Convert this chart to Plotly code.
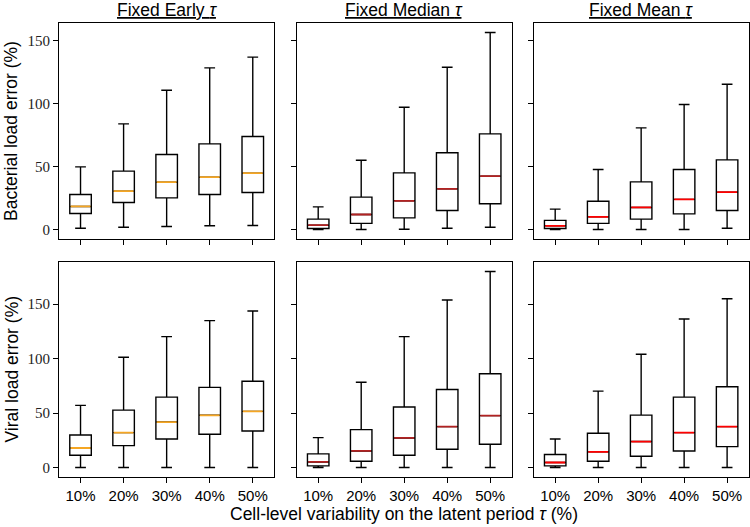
import plotly.graph_objects as go

categories = ["10%", "20%", "30%", "40%", "50%"]
panel_titles = ["Fixed Early", "Fixed Median", "Fixed Mean"]
row_labels = ["Bacterial load error (%)", "Viral load error (%)"]
median_colors = ["#f5a623", "#b22222", "#ff0000"]

# Bacterial load error (top row)
bact_early_q1 = [12.7, 21.5, 25.1, 27.8, 29.4]
bact_early_med = [18.3, 30.5, 37.6, 41.6, 44.8]
bact_early_q3 = [27.8, 46.4, 59.7, 68.1, 74.0]
bact_early_lo = [1.0, 1.8, 2.4, 2.9, 3.2]
bact_early_hi = [49.8, 84.0, 110.8, 128.6, 137.1]

bact_median_q1 = [0.8, 4.8, 9.2, 15.1, 20.4]
bact_median_med = [3.4, 11.9, 22.8, 32.3, 42.4]
bact_median_q3 = [8.2, 25.7, 45.0, 61.0, 76.1]
bact_median_lo = [0.0, 0.0, 0.2, 1.0, 1.8]
bact_median_hi = [18.0, 55.1, 97.3, 129.1, 156.7]

bact_mean_q1 = [0.8, 4.8, 8.2, 12.4, 15.1]
bact_mean_med = [2.9, 10.0, 17.5, 23.9, 29.7]
bact_mean_q3 = [7.2, 22.5, 37.9, 47.7, 55.4]
bact_mean_lo = [0.0, 0.0, 0.0, 0.0, 1.0]
bact_mean_hi = [16.2, 47.7, 80.8, 99.4, 115.6]

# Viral load error (bottom row)
vir_early_q1 = [11.3, 20.1, 26.2, 30.5, 33.5]
vir_early_med = [17.9, 32.0, 41.7, 47.9, 51.5]
vir_early_q3 = [29.8, 52.7, 64.6, 73.5, 79.2]
vir_early_lo = [0.0, 0.0, 0.0, 0.0, 0.0]
vir_early_hi = [57.0, 101.2, 120.1, 134.8, 143.6]

vir_median_q1 = [1.5, 5.8, 11.3, 16.7, 21.3]
vir_median_med = [5.1, 15.2, 27.1, 37.5, 47.6]
vir_median_q3 = [12.5, 34.8, 55.5, 71.6, 86.0]
vir_median_lo = [0.0, 0.0, 0.0, 0.0, 0.0]
vir_median_hi = [27.4, 78.3, 120.1, 153.7, 179.9]

vir_mean_q1 = [1.5, 5.8, 10.3, 15.2, 19.2]
vir_mean_med = [4.6, 14.3, 23.8, 32.0, 37.5]
vir_mean_q3 = [11.9, 31.4, 48.1, 64.6, 74.1]
vir_mean_lo = [0.0, 0.0, 0.0, 0.0, 0.0]
vir_mean_hi = [26.2, 70.1, 104.0, 136.3, 154.9]

panels = [
    (bact_early_q1, bact_early_med, bact_early_q3, bact_early_lo, bact_early_hi),
    (bact_median_q1, bact_median_med, bact_median_q3, bact_median_lo, bact_median_hi),
    (bact_mean_q1, bact_mean_med, bact_mean_q3, bact_mean_lo, bact_mean_hi),
    (vir_early_q1, vir_early_med, vir_early_q3, vir_early_lo, vir_early_hi),
    (vir_median_q1, vir_median_med, vir_median_q3, vir_median_lo, vir_median_hi),
    (vir_mean_q1, vir_mean_med, vir_mean_q3, vir_mean_lo, vir_mean_hi),
]

W, H = 750, 527
xdoms = [(59, 274.3), (296.7, 511.7), (533.7, 748.6)]
ydoms = [(22.7, 239.3), (261.7, 477.3)]  # pixel top, bottom
positions = list(range(1, len(categories) + 1))
BOX_W = 0.5

SANS = "Liberation Sans"
SERIF = "Liberation Serif"
LABEL_SIZE = 17.5

fig = go.Figure()
layout = dict(
    width=W, height=H,
    margin=dict(l=0, r=0, t=0, b=0),
    paper_bgcolor="white", plot_bgcolor="white",
    showlegend=False,
    annotations=[],
)

box_traces = []
med_traces = []
for idx, (q1, med, q3, lo, hi) in enumerate(panels):
    r, c = divmod(idx, 3)
    n = idx + 1
    xa = "x" if n == 1 else f"x{n}"
    ya = "y" if n == 1 else f"y{n}"
    box_traces.append(go.Box(
        x=positions, q1=q1, median=med, q3=q3, lowerfence=lo, upperfence=hi,
        width=BOX_W, whiskerwidth=0.5, boxpoints=False,
        line=dict(color="black", width=1.4), fillcolor="rgba(0,0,0,0)",
        xaxis=xa, yaxis=ya, hoverinfo="skip",
    ))
    mx, my = [], []
    for p, m in zip(positions, med):
        mx += [p - BOX_W / 2 + 0.02, p + BOX_W / 2 - 0.02, None]
        my += [m, m, None]
    med_traces.append(go.Scatter(
        x=mx, y=my, mode="lines", line=dict(color=median_colors[c], width=1.8),
        xaxis=xa, yaxis=ya, hoverinfo="skip",
    ))

    row_panels = panels[r * 3:(r + 1) * 3]
    ymax = max(max(p[4]) for p in row_panels)
    ymin = min(min(p[3]) for p in row_panels)
    span = ymax - ymin
    yr = [ymin - 0.05 * span, ymax + 0.05 * span]

    x0, x1 = xdoms[c]
    top, bot = ydoms[r]
    key_x = "xaxis" if n == 1 else f"xaxis{n}"
    key_y = "yaxis" if n == 1 else f"yaxis{n}"
    layout[key_x] = dict(
        domain=[x0 / W, x1 / W], anchor=ya, range=[0.5, len(categories) + 0.5],
        tickmode="array", tickvals=positions, ticktext=categories,
        showticklabels=(r == 1), ticks="outside", ticklen=5, tickwidth=1,
        tickcolor="black", showline=True, mirror=True, linecolor="black",
        linewidth=1, showgrid=False, zeroline=False,
        tickfont=dict(family=SANS, size=15, color="black"),
    )
    layout[key_y] = dict(
        domain=[1 - bot / H, 1 - top / H], anchor=xa, range=yr,
        tickmode="array", tickvals=[0, 50, 100, 150],
        showticklabels=(c == 0), ticks="outside", ticklen=5, tickwidth=1,
        tickcolor="black", showline=True, mirror=True, linecolor="black",
        linewidth=1, showgrid=False, zeroline=False,
        tickfont=dict(family=SERIF, size=15, color="#222"),
    )

for t in box_traces:
    fig.add_trace(t)
for t in med_traces:
    fig.add_trace(t)

for c, title in enumerate(panel_titles):
    x0, x1 = xdoms[c]
    layout["annotations"].append(dict(
        text=f"<u>{title} <i>τ</i></u>", x=(x0 + x1) / 2 / W, y=1 - 10 / H,
        xref="paper", yref="paper", showarrow=False, xanchor="center", yanchor="middle",
        font=dict(family=SANS, size=LABEL_SIZE, color="black"),
    ))

for r, lab in enumerate(row_labels):
    top, bot = ydoms[r]
    layout["annotations"].append(dict(
        text=lab, x=11 / W, y=1 - (top + bot) / 2 / H, textangle=-90,
        xref="paper", yref="paper", showarrow=False, xanchor="center", yanchor="middle",
        font=dict(family=SANS, size=LABEL_SIZE, color="black"),
    ))

layout["annotations"].append(dict(
    text="Cell-level variability on the latent period <i>τ</i> (%)",
    x=(xdoms[0][0] + xdoms[2][1]) / 2 / W, y=1 - 514 / H,
    xref="paper", yref="paper", showarrow=False, xanchor="center", yanchor="middle",
    font=dict(family=SANS, size=LABEL_SIZE, color="black"),
))

fig.update_layout(**layout)
fig.write_html("out.html")
